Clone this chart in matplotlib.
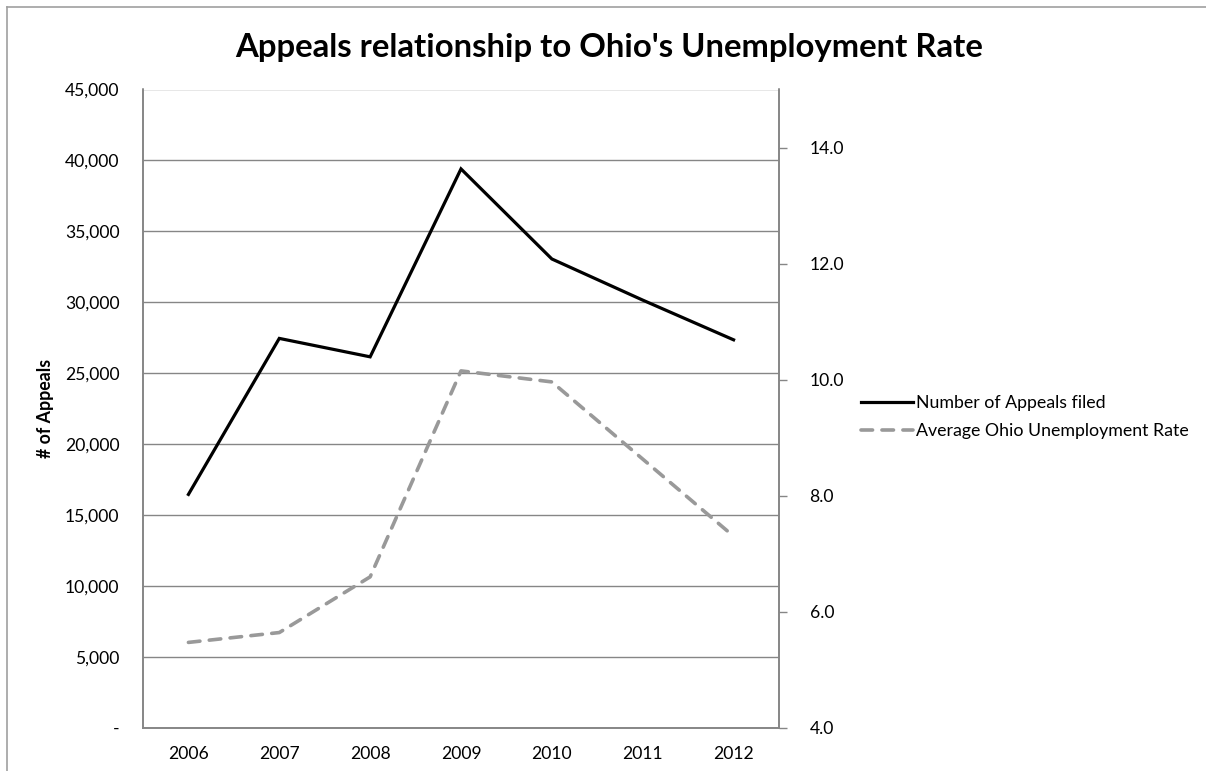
import numpy as np
import matplotlib
matplotlib.use("Agg")
import matplotlib.pyplot as plt
from matplotlib.lines import Line2D
from matplotlib.ticker import FuncFormatter

plt.rcParams['font.family'] = ['Lato', 'DejaVu Sans']

years = ['2006', '2007', '2008', '2009', '2010', '2011', '2012']
appeals = [16450, 27450, 26150, 39400, 33050, 30150, 27350]
unemployment = [5.47, 5.64, 6.60, 10.15, 9.96, 8.63, 7.30]

grey = '#868686'
dash_grey = '#999999'
fs = 12.6

fig = plt.figure(figsize=(12.06, 7.71), dpi=100)
ax = fig.add_axes([143/1206, 1 - 727.7/771, (779 - 143)/1206, (727.7 - 89.5)/771])
ax2 = ax.twinx()

x = np.arange(len(years))

# appeals on the left axis
ax.plot(x, appeals, color='black', lw=2.3, solid_joinstyle='miter', zorder=3)
ax.set_xlim(-0.5, len(years) - 0.5)
ax.set_ylim(0, 45000)
ax.set_yticks(np.arange(0, 45001, 5000))
ax.yaxis.set_major_formatter(FuncFormatter(lambda v, p: '-' if v == 0 else f'{v:,.0f}'))
ax.grid(axis='y', color=grey, lw=1)
ax.set_axisbelow(True)
ax.set_xticks(x)
ax.set_xticklabels(years)
ax.tick_params(axis='x', length=0, pad=13, labelsize=fs)
ax.tick_params(axis='y', length=0, pad=17, labelsize=fs)
ax.set_ylabel('# of Appeals', fontweight='bold', fontsize=12.8, labelpad=8)

# unemployment rate on the right axis
ax2.plot(x, unemployment, color=dash_grey, lw=2.6, linestyle=(0, (3.2, 2.6)),
         dash_capstyle='round', zorder=3)
ax2.set_ylim(4, 15)
ax2.set_yticks(np.arange(4, 14.1, 2))
ax2.yaxis.set_major_formatter(FuncFormatter(lambda v, p: f'{v:.1f}'))
ax2.tick_params(axis='y', length=6, width=1, color=grey, pad=16, labelsize=fs)

for a in (ax, ax2):
    a.spines['top'].set_visible(False)
    for s in ('left', 'right', 'bottom'):
        a.spines[s].set_color(grey)
        a.spines[s].set_linewidth(1.2)

fig.text(0.505, 1 - 47/771, "Appeals relationship to Ohio's Unemployment Rate",
         ha='center', va='center', fontsize=23.7, fontweight='bold')

handles = [Line2D([], [], color='black', lw=2.3),
           Line2D([], [], color=dash_grey, lw=2.6, linestyle=(0, (3.2, 2.6)),
                  dash_capstyle='round')]
fig.legend(handles, ['Number of Appeals filed', 'Average Ohio Unemployment Rate'],
           loc='center left', bbox_to_anchor=(845/1206, 1 - 417/771), frameon=False,
           fontsize=12.8, handlelength=2.9, handletextpad=0.2, labelspacing=0.65)

# outer chart border
fig.add_artist(Line2D([7/1206, 7/1206], [0, 1 - 7/771], color='#a0a0a0', lw=1.2))
fig.add_artist(Line2D([7/1206, 1], [1 - 7/771, 1 - 7/771], color='#a0a0a0', lw=1.2))

fig.savefig('out.png', dpi=100)
